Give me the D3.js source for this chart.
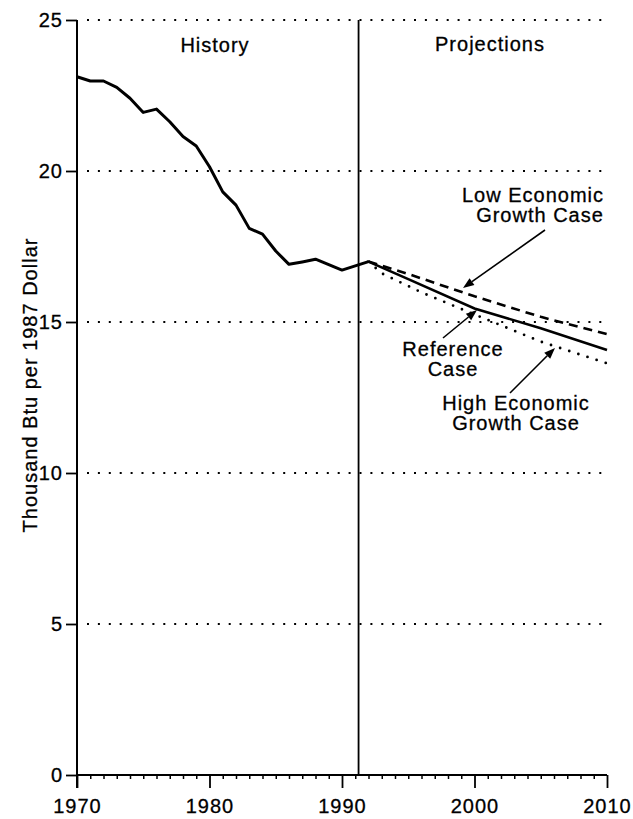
<!DOCTYPE html>
<html><head><meta charset="utf-8">
<script src="https://cdn.jsdelivr.net/npm/d3@7/dist/d3.min.js"></script>
<style>
body{margin:0;background:#fff}
text{font-family:"Liberation Sans",Arial,Helvetica,sans-serif;fill:#000;letter-spacing:1px;stroke:#000;stroke-width:0.3px}
</style>
</head><body>
<svg id="chart" width="633" height="819"></svg>
<script>
// ---- data ----
const historyYears = d3.range(1970, 1993);
const historyValues = [23.12, 22.98, 22.98, 22.77, 22.41, 21.94, 22.05, 21.63, 21.14, 20.83,
                       20.14, 19.31, 18.87, 18.10, 17.91, 17.35, 16.91, 16.99, 17.08, 16.90,
                       16.72, 16.86, 17.00];
const projectionYears = [1992, 1995, 2000, 2005, 2010];
const referenceCase = [17.00, 16.42, 15.45, 14.79, 14.07];
const lowGrowthCase = [17.00, 16.59, 15.85, 15.17, 14.60];
const highYears = [1992, 1993, 1996, 2000, 2005, 2010];
const highGrowthCase = [17.00, 16.61, 15.98, 15.25, 14.35, 13.63];
const yTicks = [0, 5, 10, 15, 20, 25];
const xTicks = [1970, 1980, 1990, 2000, 2010];
const dividerYear = 1991.25;
const yTitle = "Thousand Btu per 1987 Dollar";
const periodLabels = ["History", "Projections"];
const caseLabels = [["Low Economic", "Growth Case"], ["Reference", "Case"], ["High Economic", "Growth Case"]];

// ---- layout ----
const W = 633, H = 819;
const m = {left: 77, right: 26, top: 20, bottom: 44};
const svg = d3.select("#chart");
const x = d3.scaleLinear().domain([1970, 2010]).range([m.left, W - m.right]);
const y = d3.scaleLinear().domain([0, 25]).range([H - m.bottom, m.top]);
const FONT = '"Liberation Sans",Arial,Helvetica,sans-serif';

// gridlines (dotted)
svg.append("g").selectAll("line").data(yTicks.filter(d => d > 0)).join("line")
  .attr("x1", x(1970) + 10).attr("x2", x(2010))
  .attr("y1", d => y(d)).attr("y2", d => y(d))
  .attr("stroke", "#000").attr("stroke-width", 2)
  .attr("stroke-dasharray", "2,8.9");

// divider
svg.append("line")
  .attr("x1", x(dividerYear)).attr("x2", x(dividerYear))
  .attr("y1", y(25)).attr("y2", y(0) - 1)
  .attr("stroke", "#000").attr("stroke-width", 1.8);

// y axis
const yAxis = svg.append("g").attr("transform", `translate(${x(1970)},0)`)
  .call(d3.axisLeft(y).tickValues(yTicks).tickSize(11).tickPadding(3).tickFormat(d3.format("d")));
yAxis.select(".domain").remove();
yAxis.selectAll(".tick line").attr("stroke", "#000").attr("stroke-width", 1.8);
yAxis.selectAll("text").attr("font-size", 20).style("font-family", FONT);
svg.append("line").attr("x1", x(1970)).attr("x2", x(1970))
  .attr("y1", y(25)).attr("y2", y(0) + 13).attr("stroke", "#000").attr("stroke-width", 2);

// x axis minor ticks
const xMinor = svg.append("g").attr("transform", `translate(0,${y(0)})`)
  .call(d3.axisBottom(x).tickValues(d3.range(1971, 2010).filter(d => d % 10 !== 0)).tickSize(4).tickFormat(""));
xMinor.select(".domain").remove();
xMinor.selectAll(".tick line").attr("stroke", "#000").attr("stroke-width", 1.5);

// x axis major
const xAxis = svg.append("g").attr("transform", `translate(0,${y(0)})`)
  .call(d3.axisBottom(x).tickValues(xTicks).tickSize(13).tickPadding(11).tickFormat(d3.format("d")));
xAxis.select(".domain").attr("d", `M${x(1970)},0H${x(2010)}`).attr("stroke", "#000").attr("stroke-width", 2);
xAxis.selectAll(".tick line").attr("stroke", "#000").attr("stroke-width", 1.8);
xAxis.selectAll("text").attr("font-size", 20).style("font-family", FONT);

// y title
svg.append("text")
  .attr("transform", `translate(37,385) rotate(-90)`)
  .attr("text-anchor", "middle").attr("font-size", 20).text(yTitle);

// period labels
svg.append("text").attr("x", 215).attr("y", 52).attr("text-anchor", "middle").attr("font-size", 20).text(periodLabels[0]);
svg.append("text").attr("x", 490).attr("y", 51).attr("text-anchor", "middle").attr("font-size", 20).text(periodLabels[1]);

// lines
const line = d3.line().x(d => x(d[0])).y(d => y(d[1]));
svg.append("path").datum(d3.zip(historyYears, historyValues)).attr("d", line)
  .attr("fill", "none").attr("stroke", "#000").attr("stroke-width", 3).attr("stroke-linejoin", "round");
svg.append("path").datum(d3.zip(projectionYears, referenceCase)).attr("d", line)
  .attr("fill", "none").attr("stroke", "#000").attr("stroke-width", 2.6);
svg.append("path").datum(d3.zip(projectionYears, lowGrowthCase)).attr("d", line)
  .attr("fill", "none").attr("stroke", "#000").attr("stroke-width", 2.6).attr("stroke-dasharray", "9,6");
svg.append("path").datum(d3.zip(highYears, highGrowthCase)).attr("d", line)
  .attr("fill", "none").attr("stroke", "#000").attr("stroke-width", 2.8)
  .attr("stroke-linecap", "round").attr("stroke-dasharray", "0,9.6");

// annotations
const notes = [
  {lines: caseLabels[0], cx: [533, 540], base: 202, from: [545, 230], to: [463, 288]},
  {lines: caseLabels[1], cx: [453, 453], base: 356, from: [443, 338], to: [477, 310]},
  {lines: caseLabels[2], cx: [516, 516], base: 410, from: [510, 393], to: [555, 348]}
];
notes.forEach(n => {
  n.lines.forEach((t, i) => {
    svg.append("text").attr("x", n.cx[i]).attr("y", n.base + i * 20)
      .attr("text-anchor", "middle").attr("font-size", 20).text(t);
  });
  const dx = n.to[0] - n.from[0], dy = n.to[1] - n.from[1];
  const L = Math.hypot(dx, dy), ux = dx / L, uy = dy / L;
  const hl = 11, hw = 4.2;
  const bx = n.to[0] - ux * hl, by = n.to[1] - uy * hl;
  svg.append("line").attr("x1", n.from[0]).attr("y1", n.from[1]).attr("x2", bx).attr("y2", by)
    .attr("stroke", "#000").attr("stroke-width", 1.6);
  svg.append("path")
    .attr("d", `M${n.to[0]},${n.to[1]}L${bx - uy * hw},${by + ux * hw}L${bx + uy * hw},${by - ux * hw}Z`)
    .attr("fill", "#000");
});
</script>
</body></html>
